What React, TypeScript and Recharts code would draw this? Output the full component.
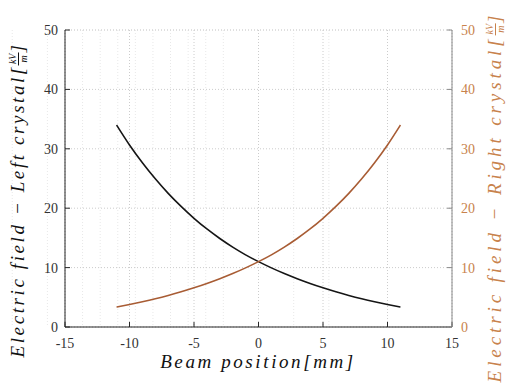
import { LineChart, Line, XAxis, YAxis, CartesianGrid } from "recharts";

// beam position [mm]
const positions = [-11, -10, -9, -8, -7, -6, -5, -4, -3, -2, -1, 0, 1, 2, 3, 4, 5, 6, 7, 8, 9, 10, 11];
// field of the left crystal [kV/m]
const leftField = [34.0, 30.65, 27.65, 24.95, 22.5, 20.3, 18.3, 16.5, 14.9, 13.45, 12.15, 11.0, 9.95, 9.0, 8.13, 7.33, 6.6, 5.93, 5.32, 4.76, 4.25, 3.78, 3.35];
// field of the right crystal [kV/m]
const rightField = [3.35, 3.78, 4.25, 4.76, 5.32, 5.93, 6.6, 7.33, 8.13, 9.0, 9.95, 11.0, 12.15, 13.45, 14.9, 16.5, 18.3, 20.3, 22.5, 24.95, 27.65, 30.65, 34.0];

const xTicks = [-15, -10, -5, 0, 5, 10, 15];
const yTicks = [0, 10, 20, 30, 40, 50];
const xMinor = [-15, -14, -13, -12, -11, -10, -9, -8, -7, -6, -5, -4, -3, -2, -1, 0, 1, 2, 3, 4, 5, 6, 7, 8, 9, 10, 11, 12, 13, 14, 15];
const yMinor = [0, 2, 4, 6, 8, 10, 12, 14, 16, 18, 20, 22, 24, 26, 28, 30, 32, 34, 36, 38, 40, 42, 44, 46, 48, 50];

const data = positions.map((x, i) => ({ x, left: leftField[i], right: rightField[i] }));

const serif = "Liberation Serif";
const axisGray = "#262626";
const orange = "#c8824c";

const Unit = () => (
  <span style={{ display: "inline-flex", alignItems: "center" }}>
    [
    <span style={{ display: "inline-flex", flexDirection: "column", alignItems: "center", fontSize: 10, lineHeight: "10px", letterSpacing: 0 }}>
      <span style={{ borderBottom: "1px solid currentColor", padding: "0 1px" }}>kV</span>
      <span>m</span>
    </span>
    ]
  </span>
);

const axisTitle: React.CSSProperties = {
  position: "absolute",
  fontFamily: serif,
  fontStyle: "italic",
  fontSize: 19,
  letterSpacing: 2.6,
  whiteSpace: "nowrap",
  transform: "translate(-50%, -50%) rotate(-90deg)",
  display: "flex",
  alignItems: "center",
};

export default function App() {
  return (
    <div style={{ position: "absolute", left: 0, top: 0, width: 509, height: 388, background: "#fff" }}>
      <LineChart width={509} height={388} data={data} margin={{ top: 30, right: 27, bottom: 31, left: 35 }}>
        <XAxis xAxisId="minorX" type="number" domain={[-15, 15]} ticks={xMinor} hide />
        <YAxis yAxisId="minorY" type="number" domain={[0, 50]} ticks={yMinor} hide />
        <CartesianGrid xAxisId="minorX" yAxisId="minorY" stroke="#e8e8e8" strokeDasharray="1 2" />
        <CartesianGrid xAxisId="bottom" yAxisId="left" stroke="#cccccc" strokeDasharray="1 2" />
        <XAxis
          xAxisId="bottom"
          dataKey="x"
          type="number"
          domain={[-15, 15]}
          ticks={xTicks}
          height={30}
          tickSize={-5}
          tickMargin={16}
          axisLine={{ stroke: axisGray }}
          tickLine={{ stroke: axisGray }}
          tick={{ fill: "#333", fontSize: 14, fontFamily: serif }}
        />
        <XAxis
          xAxisId="top"
          orientation="top"
          type="number"
          domain={[-15, 15]}
          ticks={xTicks}
          height={0}
          tickSize={-5}
          tick={false}
          axisLine={{ stroke: axisGray }}
          tickLine={{ stroke: axisGray }}
        />
        <YAxis
          yAxisId="left"
          type="number"
          domain={[0, 50]}
          ticks={yTicks}
          width={30}
          tickSize={-5}
          tickMargin={12}
          axisLine={{ stroke: axisGray }}
          tickLine={{ stroke: axisGray }}
          tick={{ fill: "#333", fontSize: 14, fontFamily: serif }}
        />
        <YAxis
          yAxisId="right"
          orientation="right"
          type="number"
          domain={[0, 50]}
          ticks={yTicks}
          width={30}
          tickSize={-5}
          tickMargin={14}
          axisLine={{ stroke: "#8a8a8a" }}
          tickLine={{ stroke: "#8a8a8a" }}
          tick={{ fill: orange, fontSize: 14, fontFamily: serif }}
        />
        <Line
          xAxisId="bottom"
          yAxisId="left"
          dataKey="left"
          type="monotone"
          stroke="#151515"
          strokeWidth={1.6}
          dot={false}
          isAnimationActive={false}
        />
        <Line
          xAxisId="bottom"
          yAxisId="right"
          dataKey="right"
          type="monotone"
          stroke="#a85c34"
          strokeWidth={1.6}
          dot={false}
          isAnimationActive={false}
        />
      </LineChart>
      <div style={{ ...axisTitle, left: 18, top: 200, color: "#111" }}>
        Electric field − Left crystal<Unit />
      </div>
      <div style={{ ...axisTitle, left: 495, top: 197, color: orange, letterSpacing: 3.9 }}>
        Electric field − Right crystal<Unit />
      </div>
      <div style={{ ...axisTitle, left: 258, top: 362, transform: "translate(-50%, -50%)", color: "#111" }}>
        Beam position[mm]
      </div>
    </div>
  );
}
